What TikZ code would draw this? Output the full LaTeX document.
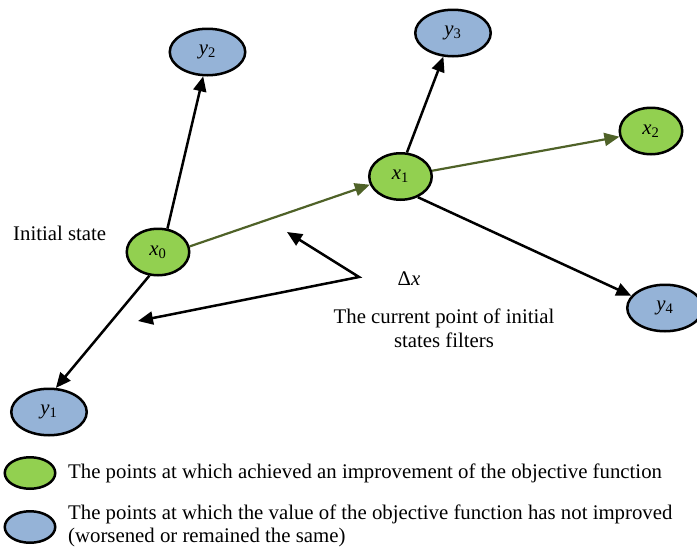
\documentclass[tikz,border=0pt]{standalone}
\usepackage{fontspec}
\setmainfont{Liberation Serif}
\usetikzlibrary{shapes.geometric,arrows.meta}
\definecolor{goodfill}{HTML}{92D050}
\definecolor{badfill}{HTML}{95B3D7}
\definecolor{moveline}{HTML}{4F6228}

\begin{document}
\begin{tikzpicture}[x=1pt,y=-1pt,
  pt/.style={ellipse, draw=black, line width=2.5pt, inner sep=0pt,
    minimum width=62.5pt, minimum height=46.5pt,
    font=\fontsize{20.8}{24}\selectfont},
  good/.style={pt, fill=goodfill},
  bad/.style={pt, fill=badfill, minimum width=75.5pt},
  keygood/.style={pt, fill=goodfill, minimum width=50.5pt, minimum height=31.5pt},
  keybad/.style={pt, fill=badfill, minimum width=50.5pt, minimum height=31.5pt},
  probe/.style={draw=black, line width=2.5pt, -{Triangle[length=15pt,width=13pt]}},
  move/.style={draw=moveline, line width=2.2pt, -{Triangle[length=15pt,width=13pt]}},
  lbl/.style={font=\fontsize{20.8}{24}\selectfont, inner sep=0pt}
]
\useasboundingbox (0,0) rectangle (697,549);

% search points
\node[good] (x0) at (158,252) {\textit{x}\textsubscript{0}};
\node[good] (x1) at (400.5,176.5) {\textit{x}\textsubscript{1}};
\node[good] (x2) at (651,131) {\textit{x}\textsubscript{2}};
\node[bad] (y1) at (49,412) {\textit{y}\textsubscript{1}};
\node[bad] (y2) at (207.5,52) {\textit{y}\textsubscript{2}};
\node[bad] (y3) at (453,33) {\textit{y}\textsubscript{3}};
\node[bad] (y4) at (665,308) {\textit{y}\textsubscript{4}};

% trial steps
\draw[probe] (x0.68) -- (y2.-100);
\draw[probe] (x0.-110) -- (y1.74);
\draw[probe] (x1.75) -- (y3.-112);
\draw[probe] (x1.-50) -- (y4.160);
\draw[move] (x0.10) -- (x1.195);
\draw[move] (x1) -- (x2);

% annotations
\node[lbl, anchor=base west] (init) at (13,240) {Initial state};
\node[lbl, anchor=base] (dx) at (409,285) {Δ\textit{x}};
\node[lbl, anchor=base, align=center] (cur) at (444,347)
  {The current point of initial\\states filters};
\coordinate (apex) at (359,277);
\coordinate (tipA) at (287,232);
\coordinate (tipB) at (138,321);
\draw[draw=black, line width=2.5pt,
  {Triangle[length=15pt,width=13pt]}-{Triangle[length=15pt,width=13pt]}]
  (tipA) -- (apex) -- (tipB);

% legend
\node[keygood] (kg) at (30,473) {};
\node[keybad] (kb) at (30,527) {};
\node[lbl, anchor=base west] (kgt) at (68,478)
  {The points at which achieved an improvement of the objective function};
\node[lbl, anchor=base west, align=left, font=\fontsize{20.8}{23}\selectfont] (kbt) at (68,542)
  {The points at which the value of the objective function has not improved\\(worsened or remained the same)};
\end{tikzpicture}
\end{document}
